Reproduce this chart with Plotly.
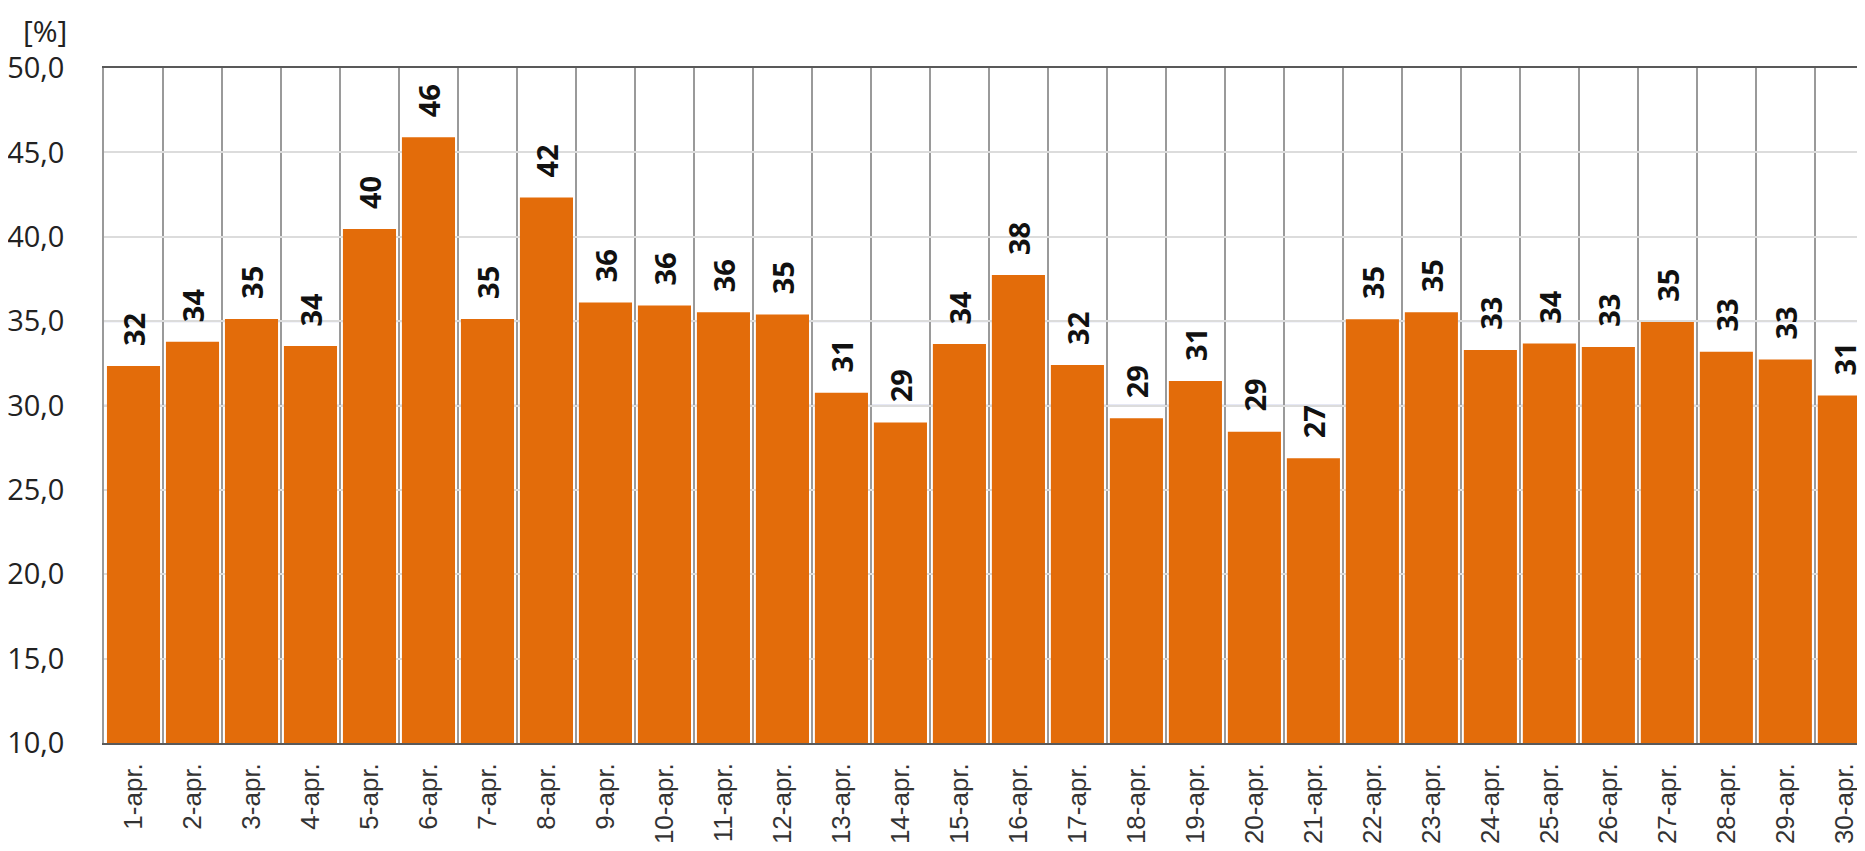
import plotly.graph_objects as go

days = [f"{d}-apr." for d in range(1, 31)]
values = [32.34, 33.78, 35.13, 33.52, 40.46, 45.89, 35.13, 42.32, 36.11, 35.92,
          35.52, 35.40, 30.76, 29.00, 33.64, 37.73, 32.40, 29.24, 31.45, 28.45,
          26.87, 35.11, 35.52, 33.29, 33.68, 33.47, 34.95, 33.19, 32.72, 30.59]
labels = ["32", "34", "35", "34", "40", "46", "35", "42", "36", "36",
          "36", "35", "31", "29", "34", "38", "32", "29", "31", "29",
          "27", "35", "35", "33", "34", "33", "35", "33", "33", "31"]
y_ticks = [10, 15, 20, 25, 30, 35, 40, 45, 50]

# page body has an 8px margin, so the figure is offset by 8px
OFF = 8
W, H = 1865 - OFF, 851 - OFF
ML, MR, MT, MB = 104 - OFF, 0, 68 - OFF, 108

fig = go.Figure()
fig.add_trace(go.Bar(
    x=days, y=values,
    marker=dict(color="#E36C0A", line=dict(width=0)),
    hoverinfo="x+y",
))

# bluish horizontal lines seen at 30 and 35
for yv in [30, 35]:
    fig.add_shape(type="line", xref="paper", yref="y", x0=0, x1=1, y0=yv, y1=yv,
                  line=dict(color="#cdd2ea", width=2), layer="below")

for d, v, t in zip(days, values, labels):
    fig.add_annotation(x=d, y=v, text=t, showarrow=False, textangle=-90,
                       xanchor="center", yanchor="bottom", yshift=18,
                       font=dict(family="Open Sans", size=29, color="#111111", weight="bold"))

fig.add_annotation(text="[%]", xref="paper", yref="paper",
                   x=(45 - 104) / (W - ML - MR), y=1 + (68 - 31) / (H - MT - MB),
                   xanchor="center", yanchor="middle", showarrow=False, borderpad=0,
                   font=dict(family="Open Sans", size=30, color="#222222"))

fig.update_layout(
    width=W, height=H,
    margin=dict(l=ML, r=MR, t=MT, b=MB, pad=0, autoexpand=False),
    plot_bgcolor="white", paper_bgcolor="white",
    bargap=0.1, showlegend=False,
    separators=",.",
    xaxis=dict(
        type="category", range=[-0.5, 29.35],
        tickson="boundaries", showgrid=True, gridcolor="#9a9a9a", gridwidth=1.5,
        tickangle=-90, ticks="", ticklabelstandoff=8,
        tickfont=dict(family="Liberation Sans", size=26, color="#333333"),
        showline=True, mirror=True, linecolor="#595959", linewidth=1.5,
        zeroline=False, automargin=False,
    ),
    yaxis=dict(
        range=[10, 50], tickvals=y_ticks, tickformat=".1f",
        showgrid=True, gridcolor="#dcdcdc", gridwidth=2,
        ticks="", ticklabelstandoff=32,
        tickfont=dict(family="Open Sans", size=29, color="#222222"),
        showline=True, linecolor="#9a9a9a", linewidth=1.5,
        zeroline=False, automargin=False,
    ),
)

fig.write_html("out.html")
